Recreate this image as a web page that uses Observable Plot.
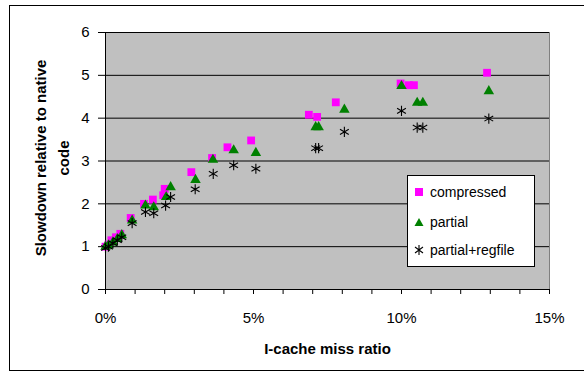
<!DOCTYPE html>
<html>
<head>
<meta charset="utf-8">
<script src="https://cdn.jsdelivr.net/npm/d3@7"></script>
<script src="https://cdn.jsdelivr.net/npm/@observablehq/plot@0.6"></script>
<style>
  html, body { margin: 0; padding: 0; background: #fff; }
  #wrap { position: relative; width: 584px; height: 375px; font-family: "Liberation Sans", Arial, sans-serif; }
  #border { position: absolute; left: 9px; top: 5px; width: 584px; height: 366px; border: 1px solid #000; box-sizing: border-box; pointer-events: none; }
  #legend { position: absolute; left: 407px; top: 175px; width: 128px; height: 92px; background: #fff; border: 1px solid #000; box-sizing: border-box; font-size: 14px; }
  #legend .row { position: absolute; left: 0; height: 18px; display: flex; align-items: center; }
  #legend svg { margin-left: 6px; margin-right: 6px; }
</style>
</head>
<body>
<div id="wrap">
  <div id="chart"></div>
  <div id="border"></div>
  <div id="legend"></div>
</div>
<script>
// I-cache miss ratio (fraction) and slowdown for each series
const compressedX = [0.000, 0.001, 0.002, 0.0035, 0.005, 0.0085, 0.013, 0.016, 0.0195, 0.020, 0.029, 0.036, 0.0412, 0.0492, 0.0687, 0.0715, 0.0778, 0.0997, 0.1025, 0.1042, 0.1289];
const compressedY = [1.00, 1.05, 1.15, 1.22, 1.30, 1.67, 2.00, 2.10, 2.20, 2.35, 2.74, 3.07, 3.32, 3.48, 4.08, 4.03, 4.37, 4.81, 4.77, 4.77, 5.06];

const partialX = [0.000, 0.001, 0.0025, 0.004, 0.0055, 0.009, 0.0135, 0.0163, 0.0205, 0.022, 0.0304, 0.0363, 0.0433, 0.0508, 0.071, 0.072, 0.0807, 0.100, 0.1053, 0.1072, 0.1295];
const partialY = [1.00, 1.03, 1.10, 1.18, 1.27, 1.61, 1.96, 1.92, 2.16, 2.39, 2.56, 3.03, 3.25, 3.19, 3.79, 3.79, 4.20, 4.75, 4.36, 4.36, 4.63];

const regfileX = [0.000, 0.001, 0.0025, 0.004, 0.0055, 0.009, 0.0135, 0.0163, 0.0203, 0.022, 0.0303, 0.0364, 0.0433, 0.0508, 0.071, 0.072, 0.0807, 0.100, 0.1053, 0.1072, 0.1295];
const regfileY = [0.97, 1.00, 1.08, 1.15, 1.22, 1.55, 1.81, 1.78, 1.96, 2.16, 2.34, 2.70, 2.90, 2.82, 3.30, 3.30, 3.68, 4.17, 3.78, 3.78, 3.99];

const seriesNames = ["compressed", "partial", "partial+regfile"];
const yTicks = [0, 1, 2, 3, 4, 5, 6];
const xTicks = [0, 0.05, 0.10, 0.15];
const xMinorTicks = d3.range(0, 16).map(d => d / 100);

const toRows = (xs, ys) => xs.map((x, i) => ({x, y: ys[i]}));
const compressed = toRows(compressedX, compressedY);
const partial = toRows(partialX, partialY);
const regfile = toRows(regfileX, regfileY);

const font = "Liberation Sans, Arial, sans-serif";

const chart = Plot.plot({
  width: 584,
  height: 375,
  marginLeft: 105,
  marginRight: 35,
  marginTop: 32,
  marginBottom: 86,
  style: {fontFamily: font, fontSize: "14px", background: "transparent", color: "#000"},
  x: {domain: [0, 0.15], label: null},
  y: {domain: [0, 6], label: null},
  marks: [
    Plot.frame({fill: "#c0c0c0", stroke: "#808080"}),
    Plot.ruleY(yTicks.slice(1), {stroke: "#000", strokeWidth: 1}),
    Plot.axisY({ticks: yTicks, tickSize: 7, tickPadding: 9, tickFormat: d => d, fontSize: 15, label: null}),
    Plot.axisX({ticks: xMinorTicks, tickSize: 5, tickFormat: () => "", label: null}),
    Plot.axisX({ticks: xTicks, tickSize: 0, tickPadding: 23, tickFormat: d => Math.round(d * 100) + "%", fontSize: 15, label: null}),
    Plot.ruleX([0], {stroke: "#000"}),
    Plot.ruleY([0], {stroke: "#000"}),
    Plot.dot(compressed, {x: "x", y: "y", symbol: "square", r: 4.4, fill: "#ff00ff", stroke: "none"}),
    Plot.dot(partial, {x: "x", y: "y", symbol: "triangle", r: 3.9, fill: "#008000", stroke: "none"}),
    Plot.dot(regfile, {x: "x", y: "y", symbol: "asterisk", r: 4.8, stroke: "#000", strokeWidth: 1.1, fill: "none"}),
    Plot.text(["I-cache miss ratio"], {frameAnchor: "bottom", dy: 64, fontWeight: "bold", fontSize: 15}),
    Plot.text(["Slowdown relative to native\ncode"], {frameAnchor: "left", rotate: -90, dx: -55, dy: -3, textAnchor: "middle", lineAnchor: "middle", fontWeight: "bold", fontSize: 15, lineHeight: 1.5})
  ]
});
document.getElementById("chart").appendChild(chart);

// legend
const legend = document.getElementById("legend");
const symbols = [
  '<svg width="10" height="10"><rect x="1" y="1" width="8" height="8" fill="#ff00ff"/></svg>',
  '<svg width="10" height="10"><path d="M5,1L9.5,9H0.5Z" fill="#008000"/></svg>',
  '<svg width="10" height="10"><path d="M5,0V10M1,2L9,8M1,8L9,2" stroke="#000" stroke-width="1.1" fill="none"/></svg>'
];
const tops = [7, 37, 65];
seriesNames.forEach((name, i) => {
  const row = document.createElement("div");
  row.className = "row";
  row.style.top = tops[i] + "px";
  row.innerHTML = symbols[i] + "<span>" + name + "</span>";
  legend.appendChild(row);
});
</script>
</body>
</html>
